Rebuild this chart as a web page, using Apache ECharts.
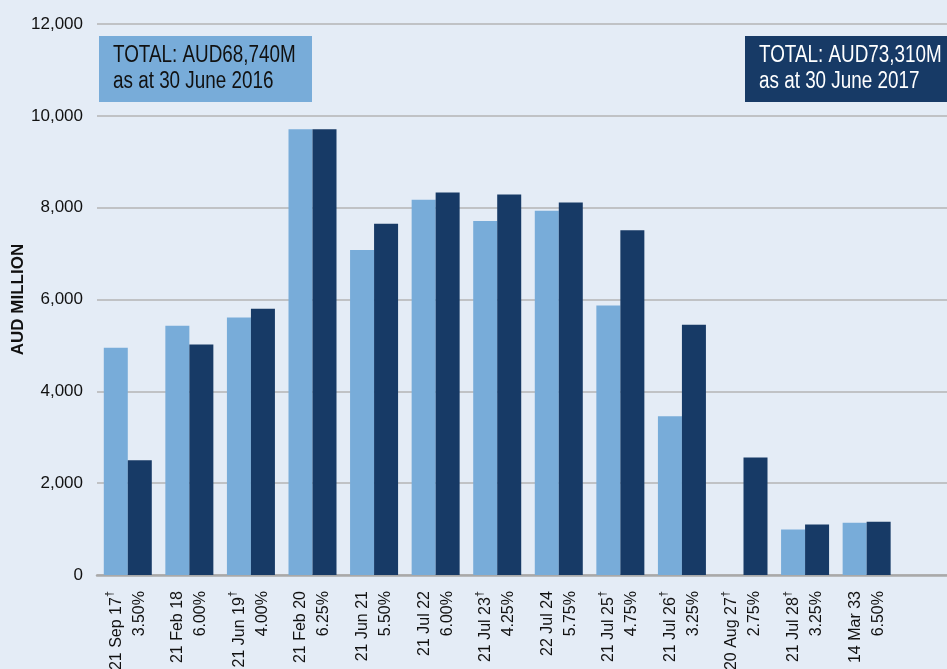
<!DOCTYPE html>
<html>
<head>
<meta charset="utf-8">
<script src="https://cdn.jsdelivr.net/npm/echarts@6/dist/echarts.min.js"></script>
<style>
html,body{margin:0;padding:0;background:#e4ecf6;}
#chart{width:947px;height:669px;}
</style>
</head>
<body>
<div id="chart"></div>
<script>
// Maturity dates (dagger marks flagged bonds) and coupons
const maturities = ['21 Sep 17†','21 Feb 18','21 Jun 19†','21 Feb 20','21 Jun 21','21 Jul 22','21 Jul 23†','22 Jul 24','21 Jul 25†','21 Jul 26†','20 Aug 27†','21 Jul 28†','14 Mar 33'];
const coupons = ['3.50%','6.00%','4.00%','6.25%','5.50%','6.00%','4.25%','5.75%','4.75%','3.25%','2.75%','3.25%','6.50%'];
// AUD million outstanding
const values2016 = [4950, 5430, 5610, 9710, 7080, 8175, 7710, 7935, 5870, 3460, 0, 990, 1140];
const values2017 = [2500, 5020, 5800, 9710, 7650, 8330, 8285, 8110, 7510, 5450, 2560, 1100, 1160];
const yTicks = [0, 2000, 4000, 6000, 8000, 10000, 12000];
const box2016 = 'TOTAL: AUD68,740M\nas at 30 June 2016';
const box2017 = 'TOTAL: AUD73,310M\nas at 30 June 2017';

const FONT = "'Liberation Sans', Arial, sans-serif";
const LIGHT = '#78acd9';
const DARK = '#173a66';
const INK = '#111111';

const categories = maturities.map((m, i) => m + '\n' + coupons[i]);
categories.push(''); // blank trailing slot so the gridlines run to the right edge

function noteBox(x, w, fillColor, textColor, text) {
  return {
    type: 'group', x: x, y: 36, z: 100,
    children: [
      {type: 'rect', shape: {x: 0, y: 0, width: w, height: 66}, style: {fill: fillColor}},
      {type: 'text', x: 14, y: 6.5, scaleX: 0.82,
       style: {text: text, fontFamily: FONT, fontSize: 23, lineHeight: 26, fill: textColor, verticalAlign: 'top', align: 'left'}}
    ]
  };
}

const chart = echarts.init(document.getElementById('chart'));
chart.setOption({
  backgroundColor: '#e4ecf6',
  animation: false,
  graphic: [
    noteBox(99, 213, LIGHT, INK, box2016),
    noteBox(745, 220, DARK, '#ffffff', box2017)
  ],
  grid: {left: 97, top: 24, width: 862, height: 551, containLabel: false, outerBoundsMode: 'none'},
  xAxis: {
    type: 'category',
    data: categories,
    axisLine: {show: true, lineStyle: {color: '#a9a9a9', width: 2.5}},
    axisTick: {show: false},
    axisLabel: {
      interval: 0, rotate: 90, margin: 16,
      fontFamily: FONT, fontSize: 16, lineHeight: 23, color: INK,
      formatter: v => v.replace('†', '{s|†}'),
      rich: {s: {fontFamily: FONT, fontSize: 11, color: INK, verticalAlign: 'top', lineHeight: 23}}
    }
  },
  yAxis: {
    type: 'value', min: yTicks[0], max: yTicks[yTicks.length - 1], interval: yTicks[1] - yTicks[0],
    name: 'AUD MILLION', nameLocation: 'middle', nameGap: 70, nameRotate: 90, nameMoveOverlap: false,
    nameTextStyle: {fontFamily: FONT, fontSize: 17, fontWeight: 'bold', color: INK},
    axisLine: {show: false}, axisTick: {show: false},
    axisLabel: {
      margin: 14, fontFamily: FONT, fontSize: 17, color: INK,
      formatter: v => v.toLocaleString('en-US')
    },
    splitLine: {lineStyle: {color: '#b4b4b4', width: 1.5}}
  },
  series: [
    {name: '2016', type: 'bar', data: values2016, barWidth: 24, barGap: '0%', itemStyle: {color: LIGHT}},
    {name: '2017', type: 'bar', data: values2017, barWidth: 24, barGap: '0%', itemStyle: {color: DARK}}
  ]
});
</script>
</body>
</html>
